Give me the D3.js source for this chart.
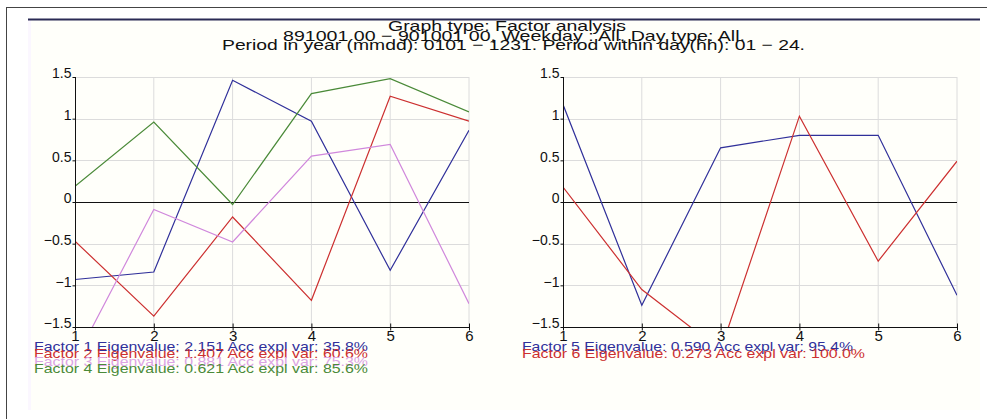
<!DOCTYPE html>
<html>
<head>
<meta charset="utf-8">
<script src="https://cdn.jsdelivr.net/npm/d3@7"></script>
<style>
  body { margin: 0; background: #fff; }
  svg { display: block; font-family: "Liberation Sans", Arial, sans-serif; }
</style>
</head>
<body>
<svg></svg>
<script>
const width = 987
const height = 419

// chart data
const xValues = [1, 2, 3, 4, 5, 6]
const yTicks = [-1.5, -1, -0.5, 0, 0.5, 1, 1.5]
const factor1 = [-0.93, -0.84, 1.46, 0.97, -0.82, 0.86]
const factor2 = [-0.47, -1.37, -0.18, -1.18, 1.27, 0.97]
const factor3 = [-1.9, -0.09, -0.48, 0.55, 0.69, -1.22]
const factor4 = [0.19, 0.96, -0.03, 1.30, 1.48, 1.08]
const factor5 = [1.17, -1.24, 0.65, 0.80, 0.80, -1.12]
const factor6 = [0.18, -1.05, -1.78, 1.03, -0.71, 0.49]

const titleLines = [
  "Graph type: Factor analysis",
  "891001 00 \u2212 901001 00, Weekday : All, Day type: All.",
  "Period in year (mmdd): 0101 \u2212 1231. Period within day(hh): 01 \u2212 24."
]
const legendLeft = [
  "Factor 1 Eigenvalue: 2.151 Acc expl var: 35.8%",
  "Factor 2 Eigenvalue: 1.407 Acc expl var: 60.6%",
  "Factor 3 Eigenvalue: 0.881 Acc expl var: 75.3%",
  "Factor 4 Eigenvalue: 0.621 Acc expl var: 85.6%"
]
const legendRight = [
  "Factor 5 Eigenvalue: 0.590 Acc expl var: 95.4%",
  "Factor 6 Eigenvalue: 0.273 Acc expl var: 100.0%"
]
const colors = ["#30309a", "#cc3030", "#d088dc", "#4a8a38"]
const legendColors = ["#30309a", "#cc3030", "#dca4e4", "#4a8a38"]

const svg = d3.select("svg")
  .attr("width", width)
  .attr("height", height)

// outer frame and panel
svg.append("rect")
  .attr("x", 6.5).attr("y", 7.5)
  .attr("width", 1000).attr("height", 500)
  .attr("fill", "none")
  .attr("stroke", "#444")

svg.append("rect")
  .attr("x", 28).attr("y", 19)
  .attr("width", 952).attr("height", 391)
  .attr("fill", "#fffffa")
svg.append("rect")
  .attr("x", 28).attr("y", 20)
  .attr("width", 3).attr("height", 390)
  .attr("fill", "#fbf7ff")
svg.append("line")
  .attr("x1", 28).attr("x2", 980)
  .attr("y1", 19.5).attr("y2", 19.5)
  .attr("stroke", "#2a2a55")
  .attr("stroke-width", 2)

// title
const titleX = [388, 283, 222]
const titleW = [238, 462, 583]
const titleY = [31, 40.5, 50]
svg.append("g").selectAll("text")
  .data(titleLines)
  .enter()
  .append("text")
  .attr("x", (d, i) => titleX[i])
  .attr("y", (d, i) => titleY[i])
  .attr("textLength", (d, i) => titleW[i])
  .attr("lengthAdjust", "spacingAndGlyphs")
  .style("font-size", "15px")
  .style("fill", "#111")
  .text(d => d)

const fmt = d => d3.format(".1~f")(d).replace("-", "\u2212")

function drawPanel(left, series, seriesColors, legend, legendW, legendCols) {
  const x = d3.scaleLinear().domain([1, 6]).range([left, left + 394])
  const y = d3.scaleLinear().domain([-1.5, 1.5]).range([327, 77])
  const g = svg.append("g")

  // grid
  g.append("g").selectAll("line")
    .data(xValues.slice(1))
    .enter().append("line")
    .attr("x1", d => x(d)).attr("x2", d => x(d))
    .attr("y1", y(1.5)).attr("y2", y(-1.5))
    .attr("stroke", "#dcdcdc")
  g.append("g").selectAll("line")
    .data(yTicks.filter(d => d !== 0 && d !== -1.5))
    .enter().append("line")
    .attr("x1", x(1)).attr("x2", x(6))
    .attr("y1", d => Math.round(y(d)) + 0.5).attr("y2", d => Math.round(y(d)) + 0.5)
    .attr("stroke", "#dcdcdc")

  // zero line
  g.append("line")
    .attr("x1", x(1)).attr("x2", x(6))
    .attr("y1", Math.round(y(0)) + 0.5).attr("y2", Math.round(y(0)) + 0.5)
    .attr("stroke", "#111")

  const clipId = "clip" + left
  svg.append("clipPath").attr("id", clipId)
    .append("rect")
    .attr("x", x(1)).attr("y", y(1.5))
    .attr("width", x(6) - x(1)).attr("height", y(-1.5) - y(1.5))

  const line = d3.line()
    .x((d, i) => x(xValues[i]))
    .y(d => y(d))

  g.append("g")
    .attr("clip-path", "url(#" + clipId + ")")
    .selectAll("path")
    .data(series)
    .enter().append("path")
    .attr("d", line)
    .attr("fill", "none")
    .attr("stroke", (d, i) => seriesColors[i])
    .attr("stroke-width", 1.2)

  // axes
  const yAxis = d3.axisLeft(y).tickValues(yTicks).tickSize(3).tickFormat(fmt)
  const ya = g.append("g")
    .attr("transform", "translate(" + (Math.round(x(1)) + 0.5) + ",0)")
    .call(yAxis)
  ya.select(".domain").attr("stroke", "#111").attr("d", "M0," + y(1.5) + "V" + y(-1.5))
  ya.selectAll("text")
    .style("font-size", "14px")
    .style("font-family", "Liberation Sans, Arial, sans-serif")
    .attr("fill", "#111")
    .attr("x", -4)
    .attr("dy", "0.05em")
  ya.selectAll(".tick line").attr("stroke", "#111")

  const xAxis = d3.axisBottom(x).tickValues(xValues).tickSize(4).tickFormat(d3.format("d"))
  const xa = g.append("g")
    .attr("transform", "translate(0," + (Math.round(y(-1.5)) + 0.5) + ")")
    .call(xAxis)
  xa.select(".domain").attr("stroke", "#111").attr("d", "M" + x(1) + ",0H" + x(6))
  xa.selectAll(".tick line").attr("stroke", "#111").attr("y1", -4).attr("y2", 3)
  xa.selectAll("text")
    .style("font-size", "15px")
    .style("font-family", "Liberation Sans, Arial, sans-serif")
    .attr("fill", "#111")
    .attr("y", 1)
    .attr("dy", "0.8em")

  // legend
  g.append("g").selectAll("text")
    .data(legend)
    .enter().append("text")
    .attr("x", left - 41)
    .attr("y", (d, i) => 350.5 + i * 7.6)
    .attr("textLength", (d, i) => legendW[i])
    .attr("lengthAdjust", "spacingAndGlyphs")
    .style("font-size", "13.5px")
    .style("fill", (d, i) => legendCols[i])
    .text(d => d)
}

drawPanel(75, [factor1, factor2, factor3, factor4], colors, legendLeft,
  [334, 334, 334, 334], legendColors)
drawPanel(563, [factor5, factor6], [colors[0], colors[1]], legendRight,
  [331, 343], legendColors)
</script>
</body>
</html>
